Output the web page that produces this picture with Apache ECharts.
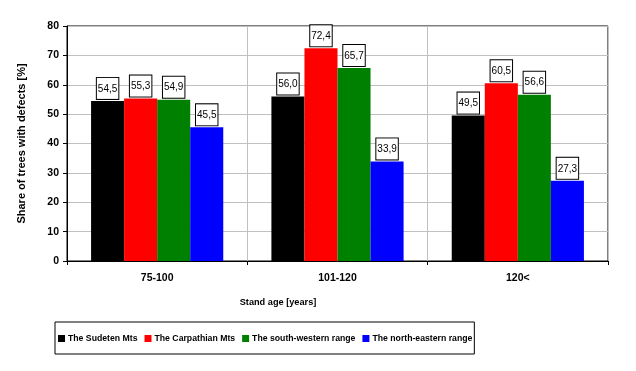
<!DOCTYPE html>
<html><head><meta charset="utf-8">
<script src="https://cdn.jsdelivr.net/npm/echarts@6/dist/echarts.min.js"></script>
<style>html,body{margin:0;padding:0;background:#fff}#c{width:636px;height:371px}</style>
</head><body><div id="c"></div>
<script>
const categories = ['75-100', '101-120', '120<'];
const sudeten = [54.5, 56.0, 49.5];
const carpathian = [55.3, 72.4, 60.5];
const southWestern = [54.9, 65.7, 56.6];
const northEastern = [45.5, 33.9, 27.3];
const seriesNames = ['The Sudeten Mts', 'The Carpathian Mts', 'The south-western range', 'The north-eastern range'];
const seriesColors = ['#000000', '#ff0000', '#008000', '#0000ff'];
const yTicks = [0, 10, 20, 30, 40, 50, 60, 70, 80];

const FONT = 'Arial, "Liberation Sans", sans-serif';
const chart = echarts.init(document.getElementById('c'), null, {renderer: 'canvas'});
const data = [sudeten, carpathian, southWestern, northEastern];
const series = data.map((d, i) => ({
  name: seriesNames[i],
  type: 'bar',
  data: d,
  barGap: '0%',
  barCategoryGap: '26.7%',
  itemStyle: {color: seriesColors[i]},
  label: {
    show: true,
    position: 'top',
    distance: 2,
    formatter: p => p.value.toFixed(1).replace('.', ','),
    fontFamily: FONT,
    fontSize: 10,
    color: '#000',
    backgroundColor: '#fff',
    borderColor: '#000',
    borderWidth: 1,
    padding: [6, 1, 5, 1]
  }
}));
chart.setOption({
  animation: false,
  backgroundColor: '#fff',
  title: {
    text: 'Stand age [years]',
    left: 273, top: 293, textAlign: 'center',
    textStyle: {fontFamily: FONT, fontSize: 9.2, fontWeight: 'bold', color: '#000'}
  },
  grid: {left: 67, right: 28, top: 26, bottom: 110, show: true, borderColor: '#000', borderWidth: 1},
  legend: {
    data: seriesNames,
    left: 55, top: 322,
    orient: 'horizontal',
    itemWidth: 7, itemHeight: 7, itemGap: 7,
    padding: [12, 2, 11, 3],
    borderColor: '#000', borderWidth: 1,
    icon: 'rect',
    textStyle: {fontFamily: FONT, fontSize: 8.7, fontWeight: 'bold', color: '#000', padding: [0, 0, 0, -2]}
  },
  xAxis: {
    type: 'category',
    data: categories,
    axisLine: {lineStyle: {color: '#000', width: 1}},
    axisTick: {show: true, length: 4, lineStyle: {color: '#000'}},
    axisLabel: {fontFamily: FONT, fontSize: 10.5, fontWeight: 'bold', color: '#000', margin: 12},
    splitLine: {show: true, lineStyle: {color: '#c0c0c0', width: 1}}
  },
  yAxis: {
    type: 'value',
    min: yTicks[0], max: yTicks[yTicks.length - 1], interval: 10,
    name: 'Share of trees with defects [%]',
    nameLocation: 'middle', nameGap: 40,
    nameTextStyle: {fontFamily: FONT, fontSize: 11, fontWeight: 'bold', color: '#000'},
    axisLine: {show: true, lineStyle: {color: '#000', width: 1}},
    axisTick: {show: true, length: 4, lineStyle: {color: '#000'}},
    axisLabel: {fontFamily: FONT, fontSize: 10.5, fontWeight: 'bold', color: '#000', margin: 8},
    splitLine: {show: true, lineStyle: {color: '#c0c0c0', width: 1}}
  },
  series: series
});
</script></body></html>
